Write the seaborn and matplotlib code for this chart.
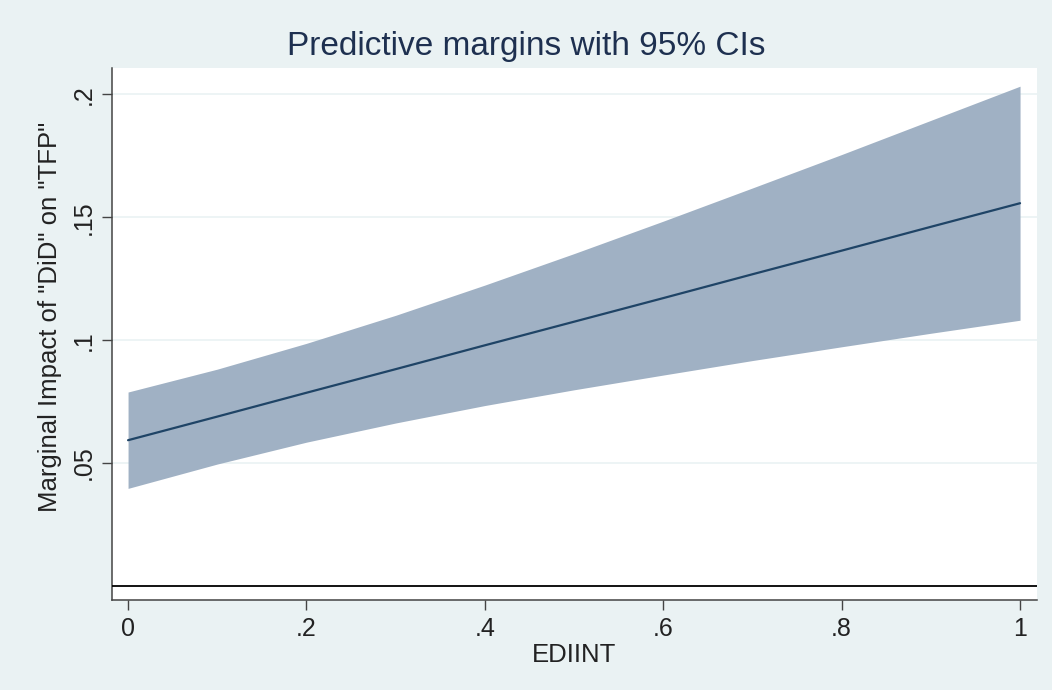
import matplotlib
matplotlib.use("Agg")
import matplotlib.pyplot as plt
import seaborn as sns
import pandas as pd

# Data
ediint = [0.0, 0.1, 0.2, 0.3, 0.4, 0.5, 0.6, 0.7, 0.8, 0.9, 1.0]
margin = [0.0593, 0.0689, 0.0786, 0.0882, 0.0979, 0.1075, 0.1171, 0.1268, 0.1364, 0.1461, 0.1557]
ci_upper = [0.0789, 0.0882, 0.0987, 0.1101, 0.1224, 0.1352, 0.1484, 0.1619, 0.1755, 0.1894, 0.2033]
ci_lower = [0.0397, 0.0496, 0.0585, 0.0663, 0.0734, 0.0798, 0.0858, 0.0917, 0.0973, 0.1028, 0.1081]
x_ticks = [0, 0.2, 0.4, 0.6, 0.8, 1.0]
x_ticklabels = ["0", ".2", ".4", ".6", ".8", "1"]
y_ticks = [0.05, 0.10, 0.15, 0.20]
y_ticklabels = [".05", ".1", ".15", ".2"]

df = pd.DataFrame({"EDIINT": ediint, "margin": margin, "lo": ci_lower, "hi": ci_upper})

sns.set_theme(style="white")
plt.rcParams["font.family"] = ["Liberation Sans", "DejaVu Sans"]

bg = "#EAF2F3"
fig = plt.figure(figsize=(10.52, 6.90), dpi=100, facecolor=bg)
ax = fig.add_axes([112 / 1052, 1 - 600 / 690, (1037 - 112) / 1052, (600 - 68) / 690])
ax.set_facecolor("white")

for yt in y_ticks:
    ax.axhline(yt, color=bg, lw=1.2, zorder=0)

ax.fill_between(df["EDIINT"], df["lo"], df["hi"], color="#A0B1C4", lw=0, zorder=1)
sns.lineplot(data=df, x="EDIINT", y="margin", ax=ax, color="#1F4466", lw=1.6, zorder=2)
ax.axhline(0, color="black", lw=1.3, zorder=3)

ax.set_xlim(-0.018, 1.019)
ax.set_ylim(-0.0057, 0.2107)
ax.set_xticks(x_ticks)
ax.set_xticklabels(x_ticklabels)
ax.set_yticks(y_ticks)
ax.set_yticklabels(y_ticklabels, rotation=90, va="center")
ax.tick_params(axis="both", which="both", length=7, width=1, color="#444444",
               labelsize=18, labelcolor="#222222", pad=5, direction="out",
               bottom=True, left=True)

for s in ["top", "right"]:
    ax.spines[s].set_visible(False)
for s in ["left", "bottom"]:
    ax.spines[s].set_color("#444444")
    ax.spines[s].set_linewidth(1.1)

ax.set_xlabel("EDIINT", fontsize=18.5, color="#222222", labelpad=2)
ax.set_ylabel('Marginal Impact of "DiD" on "TFP"', fontsize=18.5, color="#222222", labelpad=2)
ax.yaxis.set_label_coords(-0.054, (600 - 317) / 532)
fig.text(0.5, 1 - 46 / 690, "Predictive margins with 95% CIs", fontsize=24,
         color="#1E3050", ha="center", va="center")

fig.savefig("out.png", dpi=100, facecolor=bg)
